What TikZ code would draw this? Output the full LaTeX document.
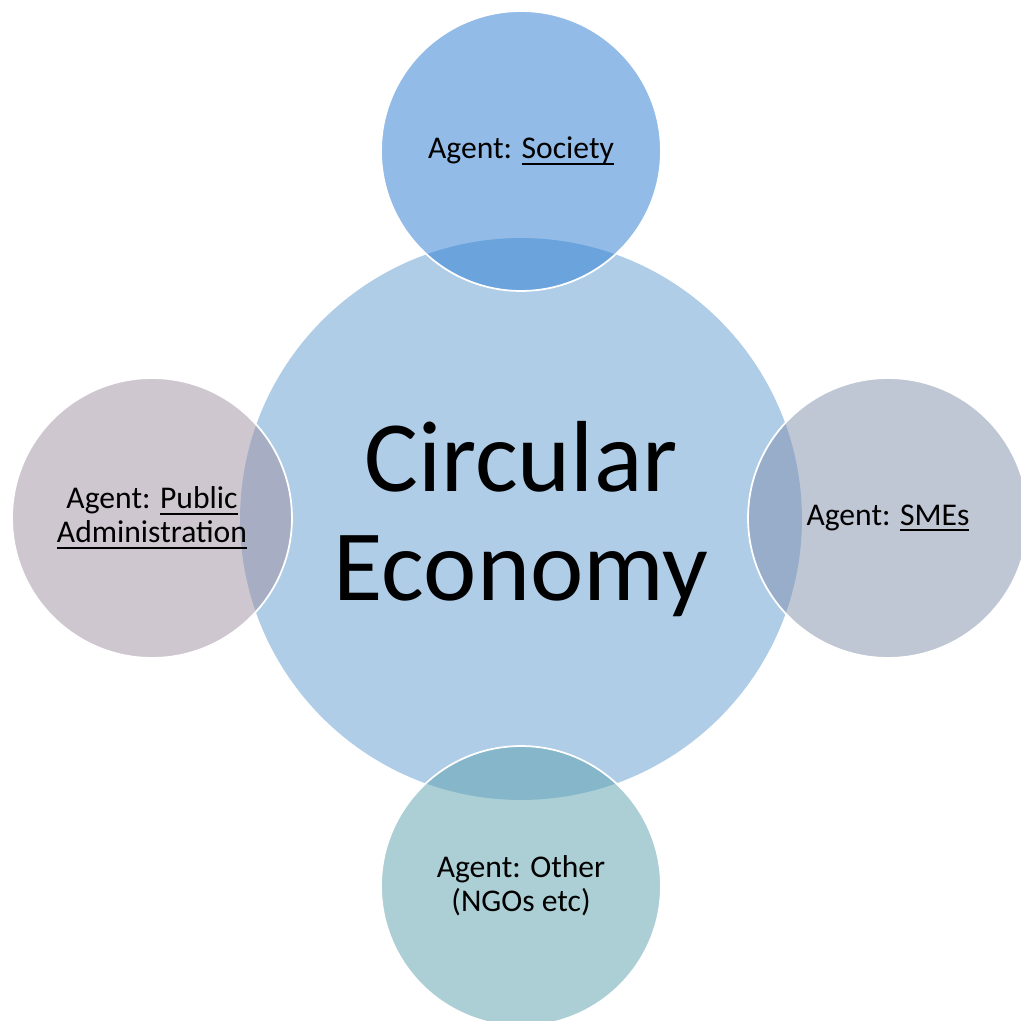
\documentclass[tikz,border=0pt]{standalone}
\usepackage{fontspec}
\setmainfont{Carlito}
% underline drawn as a rule below the baseline, without changing the line height
\newcommand\ulword[1]{\setbox0\hbox{#1}\rlap{\rule[-3.6pt]{\wd0}{1.1pt}}\box0}
\begin{document}
\begin{tikzpicture}[x=0.02cm,y=-0.02cm,
  hub/.style={circle,inner sep=0pt,minimum size=11.24cm,fill={rgb,255:red,176;green,205;blue,232},
    align=center,font=\fontsize{57.5}{62.5}\selectfont},
  agent/.style={circle,inner sep=0pt,minimum size=5.6cm,draw=white,line width=1pt,
    fill opacity=0.5,text opacity=1,align=center,font=\fontsize{18}{19.5}\selectfont}]
\useasboundingbox (0,0) rectangle (1021,1021);
\clip (0,0) rectangle (1021,1021);
\fill[white] (0,0) rectangle (1021,1021);
\node[hub] (ce) at (521,519) {Circular\\Economy};
\node[agent,fill={rgb,255:red,39;green,123;blue,209}] (soc) at (521,151) {Agent: \ulword{Society}};
\node[agent,fill={rgb,255:red,159;green,145;blue,161}] (pa) at (152,518) {Agent: \ulword{Public}\\\ulword{Administration}};
\node[agent,fill={rgb,255:red,129;green,143;blue,171}] (sme) at (888,518) {Agent: \ulword{SMEs}};
\node[agent,fill={rgb,255:red,91;green,161;blue,173}] (oth) at (521,886) {Agent: Other\\(NGOs etc)};
\end{tikzpicture}
\end{document}
